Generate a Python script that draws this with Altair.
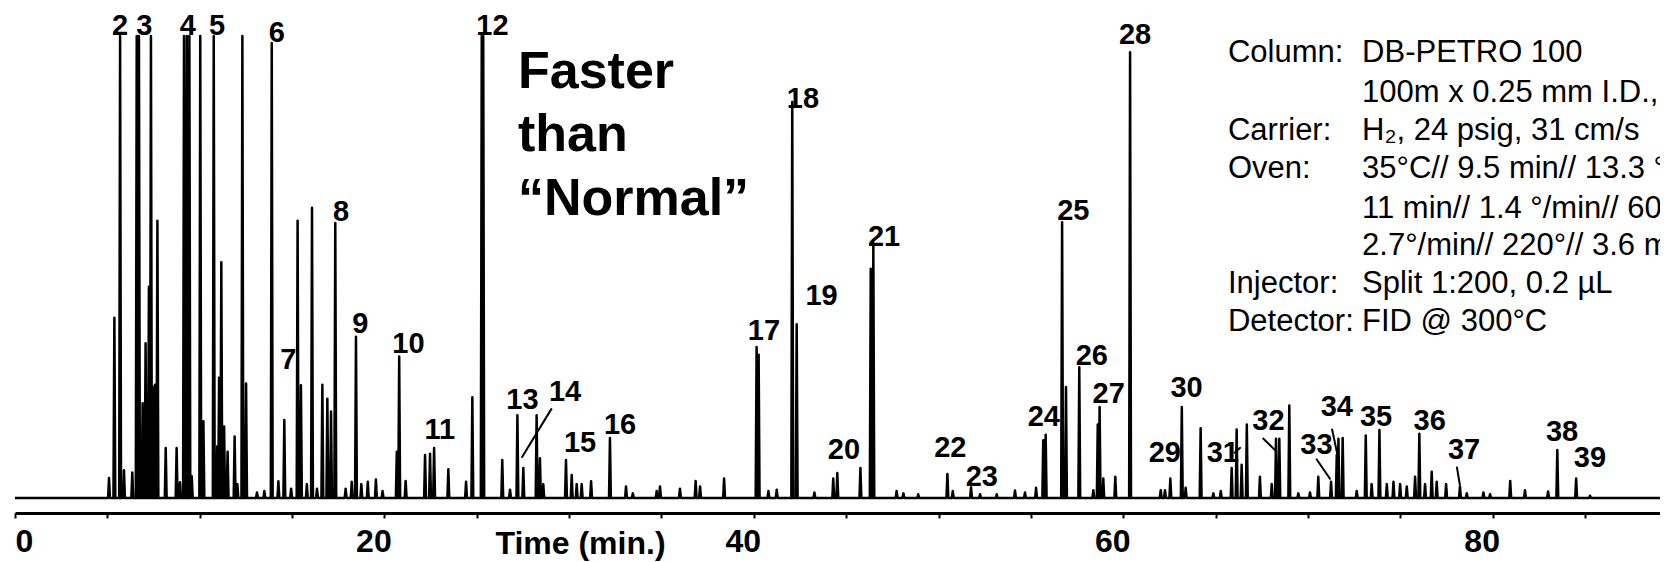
import altair as alt
import pandas as pd

# ---- chromatogram peaks (time in min, relative response 0-100) ----
peak_time = [5.09, 5.38, 5.69, 5.90, 6.35, 6.59, 6.71, 6.91, 7.07, 7.25, 7.36, 7.49, 7.58, 7.71,
             8.16, 8.75, 8.93, 9.15, 9.30, 9.44, 9.57, 10.03, 10.20, 10.76, 10.95, 11.05, 11.17,
             11.32, 11.51, 11.89, 12.04, 12.31, 12.51, 13.10, 13.50, 13.90, 14.26, 14.58, 14.95,
             15.30, 15.48, 15.80, 16.08, 16.35, 16.64, 16.91, 17.11, 17.34, 17.90, 18.23, 18.46,
             18.75, 19.10, 19.54, 19.90, 20.67, 20.80, 21.15, 22.20, 22.47, 22.69, 23.46, 24.42,
             24.76, 25.27, 25.35, 26.38, 26.80, 27.20, 27.52, 28.24, 28.42, 28.60, 29.83, 30.14,
             30.41, 30.68, 31.19, 32.21, 33.08, 33.45, 34.74, 34.92, 36.00, 36.85, 37.09, 38.39,
             40.15, 40.26, 40.79, 41.24, 42.08, 42.32, 43.28, 44.30, 44.52, 45.77, 46.33, 46.47,
             47.73, 48.10, 48.90, 50.48, 50.77, 51.76, 52.25, 53.15, 54.14, 54.68, 55.28, 55.67,
             55.80, 56.69, 56.90, 57.62, 58.38, 58.62, 58.72, 58.92, 59.57, 60.37, 62.03, 62.26,
             62.55, 63.17, 63.38, 64.19, 64.88, 65.28, 65.87, 66.14, 66.41, 66.69, 67.40, 68.04,
             68.27, 68.45, 68.99, 69.48, 70.11, 70.56, 71.25, 71.56, 71.65, 71.88, 72.64, 73.13,
             73.45, 73.87, 74.27, 74.63, 74.99, 75.35, 75.80, 76.03, 76.34, 76.70, 76.97, 77.48,
             78.23, 78.60, 79.50, 79.86, 80.95, 81.75, 83.00, 83.50, 84.52, 85.27]
peak_height = [4.3, 39, 100, 6, 5.5, 100, 100, 20.5, 33.5, 45.7, 100, 24, 24.5, 60,
               10.8, 10.8, 3.4, 100, 100, 100, 4.7, 100, 16.6, 100, 11.2, 26, 51,
               15.5, 10, 13.3, 3, 100, 24.8, 1.2, 1.5, 98.5, 3.6, 16.9, 2,
               60, 24.4, 3, 62.8, 2, 24.5, 21.5, 18.7, 59.5, 2, 3.5, 34.9,
               3, 3.5, 4, 1.5, 10, 30.6, 3.7, 9.3, 9.6, 10.8, 6.2, 3.5,
               21.8, 100, 100, 8.2, 1.8, 17.9, 6.5, 17.9, 8.6, 3, 8.2, 5,
               3, 3, 3.6, 13, 2.5, 1, 1.5, 2.5, 2, 3.7, 2.5, 4.2,
               32.7, 31, 1.5, 1.8, 85.7, 37.6, 1.2, 4.2, 5.4, 6.5, 49.6, 55,
               1.5, 1, 0.8, 5.2, 1.5, 2.3, 0.8, 0.8, 1.6, 1.2, 2.2, 12.5,
               13.7, 59.7, 24, 28.3, 1.7, 15.9, 19.7, 4.2, 4.6, 96.5, 1.7, 1.7,
               4.2, 19.7, 2.2, 15.1, 1, 1.5, 6.5, 14.8, 7.2, 15.9, 4.6, 3,
               12.8, 12.8, 20, 1, 1.2, 4.6, 3.5, 9.3, 12.8, 13, 1.5, 13.5,
               3, 14.7, 3, 3.5, 3, 2.5, 4.6, 13.9, 3, 5.7, 3.5, 3,
               2.5, 1, 1.2, 0.8, 3.7, 1.7, 1.4, 10.4, 4.2, 0.5]
run_start, run_end = 0.0, 90.0

# ---- peak numbers ----
label_text = [str(i) for i in range(2, 40)]
label_time = [5.69, 7.00, 9.35, 10.94, 14.17, 14.80, 17.65, 18.70, 21.30, 23.00, 25.85,
              27.47, 29.78, 30.59, 32.76, 40.55, 42.66, 43.67, 44.88, 47.05, 50.64, 52.34,
              55.70, 57.30, 58.30, 59.21, 60.64, 62.25, 63.43, 65.39, 67.86, 70.46, 71.56,
              73.69, 76.59, 78.45, 83.76, 85.27]
label_height = [100.3, 100.3, 100.3, 100.3, 98.6, 27.9, 60.0, 35.7, 31.4, 12.8, 100.3,
                19.3, 20.9, 9.9, 13.9, 34.1, 84.5, 41.8, 8.5, 54.6, 8.9, 2.7,
                15.6, 60.1, 28.8, 20.5, 98.3, 7.7, 21.8, 7.7, 14.8, 9.6, 17.8,
                15.5, 14.8, 8.5, 12.4, 6.6]

# ---- leader lines (from label to peak) ----
lead_t1 = [29.06, 66.00, 67.55, 70.45, 71.30, 78.06]
lead_h1 = [19.4, 9.7, 13.0, 8.5, 15.0, 6.8]
lead_t2 = [27.43, 66.36, 68.31, 71.22, 71.60, 78.23]
lead_h2 = [8.7, 11.0, 10.0, 4.0, 9.3, 2.7]

# ---- annotation ----
note_lines = ["Faster", "than", "\u201cNormal\u201d"]
note_time = 27.23
note_height = [88.7, 75.2, 61.3]

# ---- conditions block ----
param_keys = ["Column:", "", "Carrier:", "Oven:", "", "", "Injector:", "Detector:"]
param_vals = ["DB-PETRO 100",
              "100m x 0.25 mm I.D., 0.50 \u00b5m",
              "H\u2082, 24 psig, 31 cm/s",
              "35\u00b0C// 9.5 min// 13.3 \u00b0/min// 45\u00b0C//",
              "11 min// 1.4 \u00b0/min// 60\u00b0C//",
              "2.7\u00b0/min// 220\u00b0// 3.6 min",
              "Split 1:200, 0.2 \u00b5L",
              "FID  @  300\u00b0C"]
param_height = [94.3, 85.7, 77.5, 69.3, 60.6, 52.6, 44.4, 36.1]
key_time = 65.67
val_time = 72.93

x_ticks = list(range(0, 90, 5))

# ---- build the trace: baseline - apex - baseline for every peak ----
W = 0.05
xs, ys = [run_start], [0.0]
n = len(peak_time)
for i, (t, h) in enumerate(zip(peak_time, peak_height)):
    left = t - W
    if i > 0 and t - peak_time[i - 1] < 2 * W:
        left = (t + peak_time[i - 1]) / 2
    if left > xs[-1]:
        xs.append(left)
        ys.append(0.0)
    xs.append(t)
    ys.append(h)
    if i < n - 1 and peak_time[i + 1] - t < 2 * W:
        continue
    xs.append(t + W)
    ys.append(0.0)
xs.append(run_end)
ys.append(0.0)
trace = pd.DataFrame({"t": xs, "h": ys})

labels = pd.DataFrame({"t": label_time, "h": label_height, "txt": label_text})
leaders = pd.DataFrame({"t": lead_t1, "h": lead_h1, "t2": lead_t2, "h2": lead_h2})
notes = pd.DataFrame({"t": [note_time] * 3, "h": note_height, "txt": note_lines})
pkeys = pd.DataFrame({"t": [key_time] * 8, "h": param_height, "txt": param_keys})
pvals = pd.DataFrame({"t": [val_time] * 8, "h": param_height, "txt": param_vals})

FONT = "Liberation Sans"
xscale = alt.Scale(domain=[0, 89.06], nice=False, zero=False)
yscale = alt.Scale(domain=[-3.25, 106.06], nice=False, zero=False)

xaxis = alt.Axis(
    values=x_ticks,
    labelExpr="datum.value % 20 === 0 ? datum.label : ''",
    title="Time (min.)",
    titleFont=FONT, titleFontSize=32, titleFontWeight="bold", titleColor="black",
    titleX=565, titleY=40, titleBaseline="alphabetic", titleAlign="center",
    labelFont=FONT, labelFontSize=32, labelFontWeight="bold", labelColor="black",
    labelBaseline="alphabetic", labelPadding=33, labelOffset=-11,
    labelFlush=True, labelFlushOffset=-11, labelOverlap=False,
    domainColor="black", domainWidth=3, tickColor="black", tickWidth=2, tickSize=5,
    grid=False,
)

line = alt.Chart(trace).mark_line(color="black", strokeWidth=2.5, clip=True, strokeJoin="round").encode(
    x=alt.X("t:Q", scale=xscale, axis=xaxis),
    y=alt.Y("h:Q", scale=yscale, axis=None),
)

lbl = alt.Chart(labels).mark_text(
    font=FONT, fontSize=29, fontWeight="bold", color="black", align="center", baseline="alphabetic"
).encode(x="t:Q", y="h:Q", text="txt:N")

lead = alt.Chart(leaders).mark_rule(color="black", strokeWidth=2).encode(
    x="t:Q", y="h:Q", x2="t2:Q", y2="h2:Q"
)

note = alt.Chart(notes).mark_text(
    font=FONT, fontSize=52, fontWeight="bold", color="black", align="left", baseline="alphabetic"
).encode(x="t:Q", y="h:Q", text="txt:N")

keys = alt.Chart(pkeys).mark_text(
    font=FONT, fontSize=31, color="black", align="left", baseline="alphabetic"
).encode(x="t:Q", y="h:Q", text="txt:N")

vals = alt.Chart(pvals).mark_text(
    font=FONT, fontSize=31, color="black", align="left", baseline="alphabetic"
).encode(x="t:Q", y="h:Q", text="txt:N")

chart = alt.layer(line, lead, lbl, note, keys, vals).properties(
    width=1645, height=505,
    padding={"left": 7, "right": 0, "top": 0, "bottom": 49},
    autosize=alt.AutoSizeParams(type="none"),
    background="white",
).configure_view(stroke=None)

chart.save("out.html", embed_options={"renderer": "svg", "actions": False})
